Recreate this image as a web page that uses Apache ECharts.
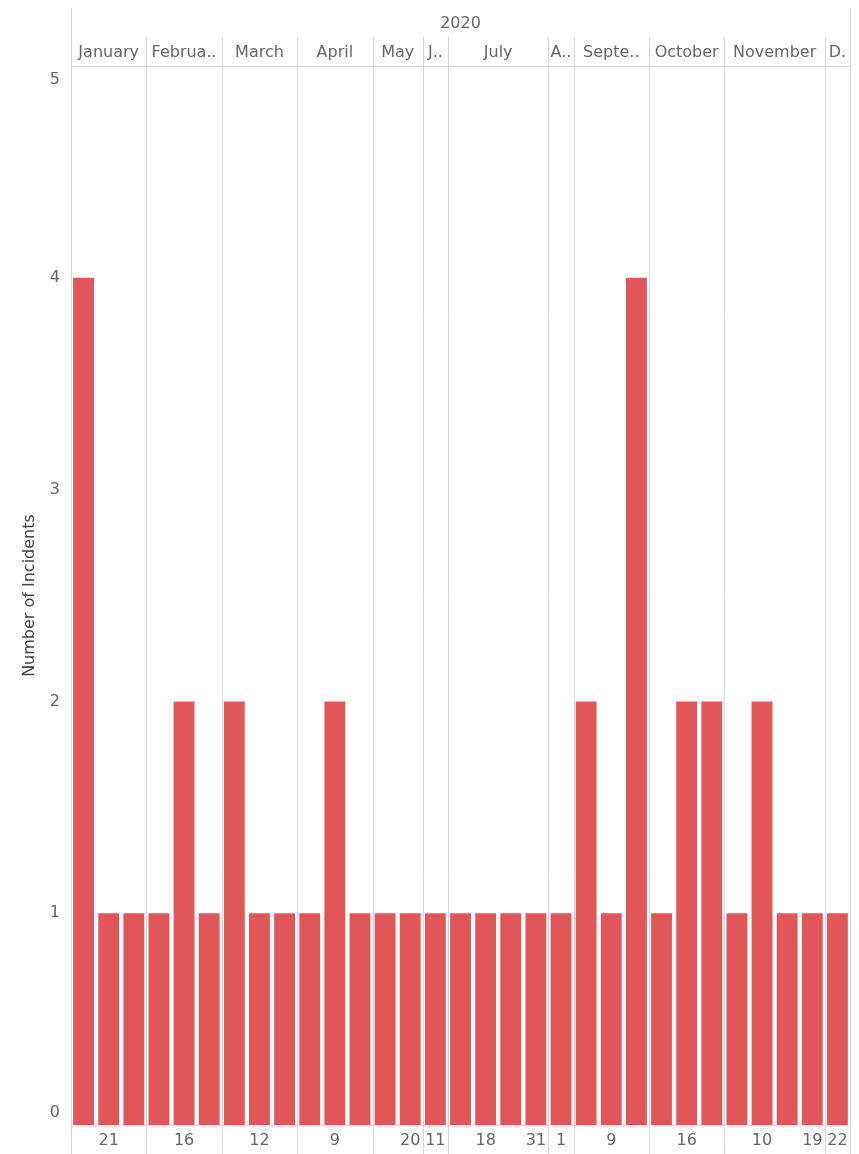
<!DOCTYPE html>
<html><head><meta charset="utf-8">
<script src="https://cdn.jsdelivr.net/npm/echarts@6/dist/echarts.min.js"></script>
<style>html,body{margin:0;padding:0;background:#fff}#c{width:859px;height:1154px}</style>
</head><body><div id="c"></div>
<script>
const yearLabel = '2020';
const monthLabels = ['January','Februa..','March','April','May','J..','July','A..','Septe..','October','November','D.'];
const monthBarCounts = [3,3,3,3,2,1,4,1,3,3,4,1];
const dayLabels = ['','21','','','16','','','12','','','9','','','20','11','','18','','31','1','','9','','','16','','','10','','19','22'];
const incidents = [4,1,1,1,2,1,2,1,1,1,2,1,1,1,1,1,1,1,1,1,2,1,4,1,2,2,1,2,1,1,1];
const yMax = 5;

const total = incidents.length;
const boundaries = [0];
const monthSpans = [];
monthBarCounts.forEach((n, i) => {
  const s = boundaries[boundaries.length - 1];
  boundaries.push(s + n);
  monthSpans.push([s, s + n, i]);
});

const FONT = 'DejaVu Sans';
const FS = 16;
const LINE = '#d6d6d6';
const TXT = '#666666';

const chart = echarts.init(document.getElementById('c'), null, {renderer: 'canvas'});
chart.setOption({
  animation: false,
  textStyle: {fontFamily: FONT},
  grid: {left: 71, right: 9, top: 66, bottom: 29, containLabel: false},
  xAxis: [{
    type: 'category',
    data: incidents.map((_, i) => String(i)),
    axisLine: {show: true, lineStyle: {color: '#e4e4e4'}},
    axisTick: {show: false},
    axisLabel: {interval: 0, margin: 8, color: TXT, fontSize: FS, fontFamily: FONT,
      formatter: (v) => dayLabels[+v]}
  }, {
    type: 'value', position: 'top', min: 0, max: total,
    axisLine: {show: true, onZero: false, lineStyle: {color: LINE}},
    axisTick: {show: false}, axisLabel: {show: false}, splitLine: {show: false}
  }],
  yAxis: {
    type: 'value', min: 0, max: yMax, interval: 1,
    name: 'Number of Incidents', nameLocation: 'middle', nameGap: 33,
    nameTextStyle: {color: '#444', fontSize: FS, fontFamily: FONT},
    axisLine: {show: false}, axisTick: {show: false}, splitLine: {show: false},
    axisLabel: {margin: 11, color: TXT, fontSize: FS, fontFamily: FONT,
      formatter: (v) => v === yMax ? '{hi|' + v + '}' : (v === 0 ? '{lo|' + v + '}' : String(v)),
      rich: {
        hi: {padding: [28, 0, 0, 0], color: TXT, fontSize: FS, fontFamily: FONT},
        lo: {padding: [0, 0, 24, 0], color: TXT, fontSize: FS, fontFamily: FONT}
      }}
  },
  series: [{
    type: 'bar', xAxisIndex: 0, yAxisIndex: 0,
    data: incidents, barCategoryGap: '17%',
    itemStyle: {color: '#E15759'}
  }, {
    type: 'custom', xAxisIndex: 1, yAxisIndex: 0, clip: false, silent: true, z: 1,
    data: boundaries.map(b => [b]),
    encode: {x: 0},
    renderItem: (params, api) => {
      const b = api.value(0);
      const x = Math.round(api.coord([b, 0])[0]) + 0.5;
      const top = api.coord([b, yMax])[1];
      const edge = (b === 0 || b === total);
      const y0 = edge ? top - 58 : top - 29;
      return {type: 'line', shape: {x1: x, y1: y0, x2: x, y2: api.getHeight()},
        style: {stroke: LINE, lineWidth: 1}};
    }
  }, {
    type: 'custom', xAxisIndex: 1, yAxisIndex: 0, clip: false, silent: true,
    data: monthSpans,
    encode: {x: [0, 1]},
    renderItem: (params, api) => {
      const s = api.value(0), e = api.value(1), idx = api.value(2);
      const x = api.coord([(s + e) / 2, 0])[0];
      const top = api.coord([s, yMax])[1];
      return {type: 'text', style: {text: monthLabels[idx], x: x, y: top - 13,
        align: 'center', verticalAlign: 'middle', fill: TXT, fontSize: FS, fontFamily: FONT}};
    }
  }, {
    type: 'custom', xAxisIndex: 1, yAxisIndex: 0, clip: false, silent: true,
    data: [[0, total]],
    encode: {x: [0, 1]},
    renderItem: (params, api) => {
      const s = api.value(0), e = api.value(1);
      const x = api.coord([(s + e) / 2, 0])[0];
      const top = api.coord([s, yMax])[1];
      return {type: 'text', style: {text: yearLabel, x: x, y: top - 42,
        align: 'center', verticalAlign: 'middle', fill: TXT, fontSize: FS, fontFamily: FONT}};
    }
  }]
});
</script>
</body></html>
